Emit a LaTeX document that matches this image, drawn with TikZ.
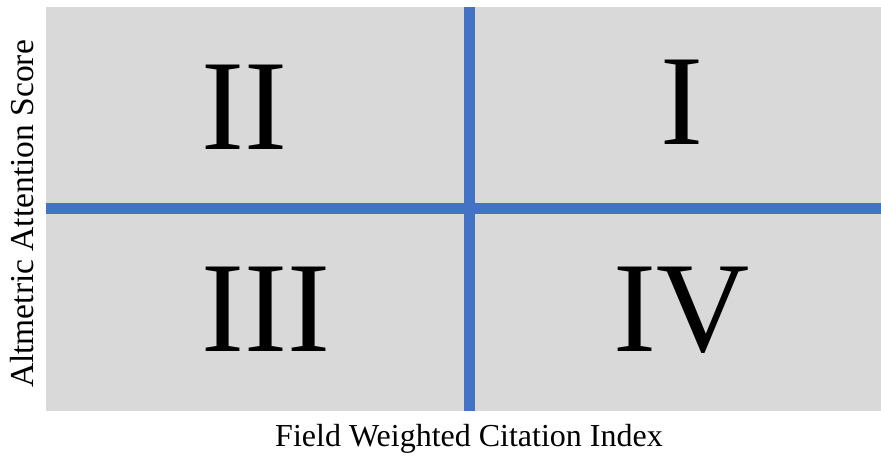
\documentclass[tikz,border=0pt]{standalone}
\usepackage{fontspec}
\setmainfont{Liberation Serif}
\definecolor{quadgray}{HTML}{D9D9D9}
\definecolor{axisblue}{HTML}{4472C4}
\begin{document}
\begin{tikzpicture}[x=1pt,y=1pt,
  numeral/.style={anchor=base,inner sep=0pt,font=\fontsize{129}{129}\selectfont},
  axislabel/.style={anchor=base,inner sep=0pt,font=\fontsize{32}{32}\selectfont},
  divider/.style={draw=axisblue,line width=10.5pt}]
\useasboundingbox (0,0) rectangle (881,456);
\fill[quadgray] (46,45) rectangle (881,449);
\coordinate (vtop) at (469.5,449);
\coordinate (vbot) at (469.5,45);
\coordinate (hl) at (46,247.5);
\coordinate (hr) at (881,247.5);
\draw[divider] (vbot) -- (vtop);
\draw[divider] (hl) -- (hr);
\node[numeral] (q2) at (244,306.7) {II};
\node[numeral] (q1) at (681.5,311.7) {I};
\node[numeral] (q3) at (266,105) {III};
\node[numeral] (q4) at (682,105) {IV};
\node[axislabel] (xl) at (469,10) {Field Weighted Citation Index};
\node[axislabel,rotate=90,font=\fontsize{33.5}{33.5}\selectfont] (yl) at (33,242) {Altmetric Attention Score};
\end{tikzpicture}
\end{document}
